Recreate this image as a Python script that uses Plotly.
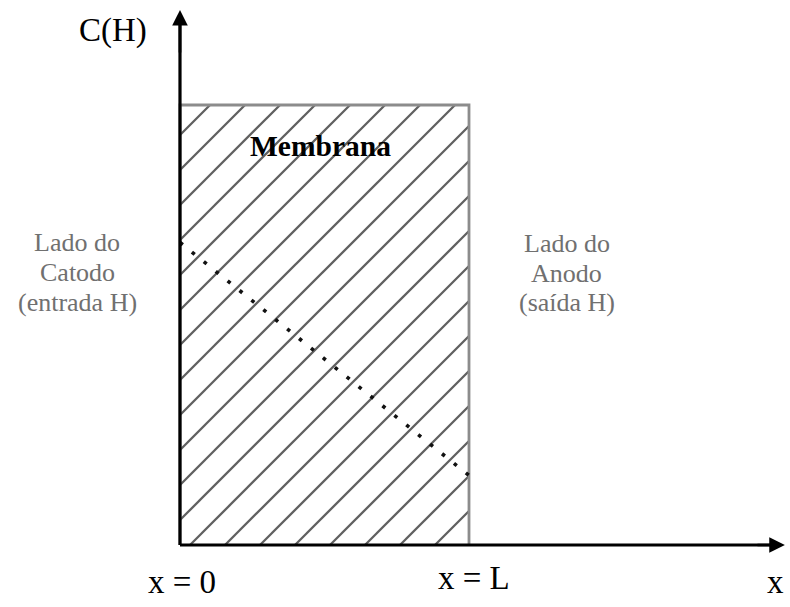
import numpy as np
import plotly.graph_objects as go

# Membrane geometry (normalised: thickness L = 1, top concentration = 1)
L = 1.0
C_TOP = 1.0
X_AXIS_END = 2.093      # arrow tip of the x axis
Y_AXIS_END = 1.216      # arrow tip of the C(H) axis

# Concentration profile across the membrane (dotted line)
profile_x = [0.0, L]
profile_c = [0.6875, 0.158]

# Text labels
y_label = "C(H)"
membrane_label = "Membrana"
cathode_lines = ["Lado do", "Catodo", "(entrada H)"]
anode_lines = ["Lado do", "Anodo", "(saída H)"]
x_tick_labels = ["x = 0", "x = L"]
x_axis_label = "x"

# Figure / axis layout
W, H = 790, 607
X_RANGE = [-0.6228, 2.1107]
Y_RANGE = [-0.1409, 1.2386]
px_per_x = W / (X_RANGE[1] - X_RANGE[0])
px_per_y = H / (Y_RANGE[1] - Y_RANGE[0])

# 45-degree hatching inside the membrane
HATCH_STEP_PX = 35.0
HATCH_OFFSET_PX = 10.0
slope = px_per_x / px_per_y          # data-units rise per unit run at 45 deg
run_full = C_TOP / slope             # horizontal run to cross the full height

hx, hy = [], []
k_min = int(np.floor(-(HATCH_OFFSET_PX + run_full * px_per_x) / HATCH_STEP_PX)) - 1
k_max = int(np.ceil((L * px_per_x - HATCH_OFFSET_PX) / HATCH_STEP_PX)) + 1
for k in range(k_min, k_max + 1):
    xb = (HATCH_OFFSET_PX + k * HATCH_STEP_PX) / px_per_x
    x0 = max(0.0, xb)
    x1 = min(L, xb + run_full)
    if x1 <= x0:
        continue
    hx += [x0, x1, None]
    hy += [(x0 - xb) * slope, (x1 - xb) * slope, None]

fig = go.Figure()

fig.add_trace(go.Scatter(
    x=hx, y=hy, mode="lines",
    line=dict(color="#606060", width=2.3),
    hoverinfo="skip", showlegend=False,
))

# Membrane outline
fig.add_trace(go.Scatter(
    x=[0, 0, L, L], y=[0, C_TOP, C_TOP, 0], mode="lines",
    line=dict(color="#8c8c8c", width=2.8),
    hoverinfo="skip", showlegend=False,
))

# Concentration profile
fig.add_trace(go.Scatter(
    x=profile_x, y=profile_c, mode="lines",
    line=dict(color="#111111", width=3.6, dash="3.6px,11.7px"),
    hoverinfo="skip", showlegend=False,
))

# Axes drawn as arrows
fig.add_trace(go.Scatter(
    x=[0, 0, None, 0, X_AXIS_END - 0.03], y=[Y_AXIS_END - 0.03, 0, None, 0, 0],
    mode="lines", line=dict(color="black", width=3.2),
    hoverinfo="skip", showlegend=False,
))
for (tx, ty, sx, sy) in [(0, Y_AXIS_END, 0, Y_AXIS_END - 0.1),
                         (X_AXIS_END, 0, X_AXIS_END - 0.1, 0)]:
    fig.add_annotation(x=tx, y=ty, ax=sx, ay=sy, xref="x", yref="y",
                       axref="x", ayref="y", showarrow=True, text="",
                       arrowhead=2, arrowsize=1.2, arrowwidth=2.6,
                       arrowcolor="black")

serif = "Liberation Serif, Times New Roman, serif"

def label(text, x, y, size, color="black", bold=False):
    fig.add_annotation(x=x, y=y, xref="x", yref="y", showarrow=False,
                       text=f"<b>{text}</b>" if bold else text,
                       font=dict(family=serif, size=size, color=color),
                       xanchor="center", yanchor="middle")

label(y_label, -0.233, 1.169, 33)
label(membrane_label, 0.486, 0.906, 29.5, bold=True)

for i, line in enumerate(cathode_lines):
    label(line, -0.355, 0.688 - i * 0.068, 26, color="#707070")
for i, line in enumerate(anode_lines):
    label(line, 1.339, 0.686 - i * 0.068, 26, color="#707070")

label(x_tick_labels[0], 0.008, -0.084, 33)
label(x_tick_labels[1], 1.016, -0.075, 33)
label(x_axis_label, 2.06, -0.084, 33)

fig.update_layout(
    width=W, height=H,
    margin=dict(l=0, r=0, t=0, b=0),
    paper_bgcolor="white", plot_bgcolor="white",
    xaxis=dict(range=X_RANGE, visible=False, fixedrange=True),
    yaxis=dict(range=Y_RANGE, visible=False, fixedrange=True),
    showlegend=False,
)

fig.write_html("out.html")
